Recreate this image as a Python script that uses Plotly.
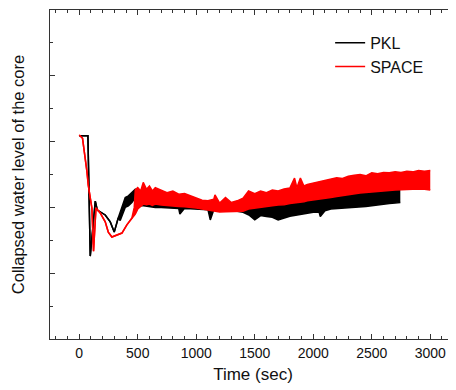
import plotly.graph_objects as go

# ---------------- data ----------------
# PKL: early single-line part
pkl_t_early = [0, 74, 94, 137, 154, 222, 265, 299, 333]
pkl_v_early = [6.18, 6.18, 2.52, 4.19, 3.92, 3.77, 3.56, 3.25, 3.68]
# PKL: oscillating part (upper / lower envelope)
pkl_t_band = [350, 393, 420, 450, 479, 500, 521,
              550, 600, 650, 700, 750, 800, 850, 860, 900, 950,
              1000, 1050, 1100, 1120, 1150, 1200, 1250, 1300, 1350, 1400,
              1450, 1500, 1550, 1600, 1650, 1700, 1750, 1800, 1850, 1900,
              1950, 2000, 2050, 2060, 2100, 2150, 2200, 2250, 2300, 2350,
              2400, 2450, 2500, 2550, 2600, 2650, 2700, 2744]
pkl_hi_band = [3.85, 4.3, 4.35, 4.45, 4.55, 4.5, 4.2,
               4.2, 4.15, 4.13, 4.12, 4.1, 4.1, 4.08, 4.08, 4.08, 4.06,
               4.05, 4.05, 4.05, 4.05, 4.06, 4.06, 4.05, 4.05, 4.04, 4.02,
               3.98, 3.98, 4.0, 4.03, 4.05, 4.1, 4.12, 4.16, 4.18, 4.22,
               4.25, 4.29, 4.3, 4.33, 4.33, 4.38, 4.4, 4.4, 4.44, 4.45,
               4.46, 4.46, 4.47, 4.5, 4.5, 4.53, 4.55, 4.6]
pkl_lo_band = [3.6, 4.0, 4.05, 4.15, 4.3, 4.1, 4.05,
               4.05, 4.02, 4.0, 4.0, 3.99, 3.98, 3.97, 3.8, 3.97, 3.96,
               3.95, 3.94, 3.93, 3.62, 3.93, 3.92, 3.91, 3.9, 3.88, 3.85,
               3.77, 3.62, 3.75, 3.72, 3.7, 3.62, 3.68, 3.73, 3.76, 3.8,
               3.82, 3.85, 3.86, 3.72, 3.9, 3.95, 3.96, 3.98, 4.0, 4.01,
               4.0, 4.03, 4.05, 4.08, 4.1, 4.12, 4.13, 4.15]

# SPACE: early single-line part
space_t_early = [0, 28, 66, 77, 108, 122, 143, 179, 222, 248, 279, 365, 407, 450]
space_v_early = [6.2, 6.1, 5.08, 4.68, 3.98, 2.67, 3.98, 3.83, 3.56, 3.25, 3.1, 3.22, 3.47, 3.68]
# SPACE: oscillating part (upper / lower envelope)
space_t_band = [470, 479, 500, 525, 547, 575, 600, 625, 650, 700,
                750, 800, 850, 900, 950, 1000, 1050, 1100, 1150, 1160,
                1200, 1250, 1300, 1350, 1400, 1447, 1500, 1550, 1600, 1650,
                1700, 1750, 1800, 1840, 1860, 1890, 1920, 1950, 2000, 2050,
                2100, 2150, 2200, 2250, 2300, 2350, 2400, 2450, 2500, 2550,
                2600, 2650, 2700, 2750, 2800, 2850, 2900, 2950, 3000]
space_hi_band = [4.0, 4.53, 4.6, 4.5, 4.76, 4.55, 4.65, 4.5, 4.6, 4.53,
                 4.45, 4.5, 4.4, 4.42, 4.35, 4.3, 4.22, 4.2, 4.25, 4.38,
                 4.13, 4.3, 4.15, 4.2, 4.28, 4.5, 4.42, 4.5, 4.45, 4.53,
                 4.5, 4.56, 4.59, 4.89, 4.6, 4.89, 4.65, 4.7, 4.74, 4.78,
                 4.8, 4.85, 4.9, 4.88, 4.95, 4.98, 5.0, 4.96, 5.05, 5.02,
                 5.06, 5.05, 5.08, 5.06, 5.1, 5.08, 5.12, 5.1, 5.12]
space_lo_band = [3.77, 3.8, 3.95, 4.02, 4.1, 4.08, 4.1, 4.06, 4.1, 4.07,
                 4.05, 4.05, 4.03, 4.02, 4.01, 3.98, 3.95, 3.92, 3.9, 3.9,
                 3.86, 3.87, 3.87, 3.86, 3.88, 3.95, 3.98, 4.0, 4.02, 4.05,
                 4.07, 4.08, 4.12, 4.13, 4.15, 4.15, 4.17, 4.2, 4.22, 4.25,
                 4.27, 4.3, 4.33, 4.36, 4.4, 4.42, 4.44, 4.45, 4.47, 4.48,
                 4.5, 4.52, 4.53, 4.54, 4.55, 4.56, 4.56, 4.55, 4.53]

x_ticks = [0, 500, 1000, 1500, 2000, 2500, 3000]
series_names = ["PKL", "SPACE"]
series_colors = ["#000000", "#ff0000"]

# ---------------- figure ----------------
fig = go.Figure()

datasets = [
    (pkl_t_early + pkl_t_band, pkl_v_early + pkl_hi_band, pkl_v_early + pkl_lo_band),
    (space_t_early + space_t_band, space_v_early + space_hi_band, space_v_early + space_lo_band),
]

for (t, hi, lo), name, color in zip(datasets, series_names, series_colors):
    fig.add_trace(go.Scatter(x=t, y=lo, mode="lines", line=dict(color=color, width=1.5),
                             showlegend=False, hoverinfo="skip"))
    fig.add_trace(go.Scatter(x=t, y=hi, mode="lines", line=dict(color=color, width=1.5),
                             fill="tonexty", fillcolor=color, showlegend=False, name=name))

for name, color in zip(series_names, series_colors):
    fig.add_trace(go.Scatter(x=[None], y=[None], mode="lines", name=name,
                             line=dict(color=color, width=1.5)))

axis_common = dict(
    showline=True, linecolor="#333333", linewidth=1.2, mirror="ticks",
    ticks="inside", ticklen=5, tickwidth=1, tickcolor="#333333",
    showgrid=False, zeroline=False, automargin=False,
)

# the page body adds an 8 px offset, so the figure is sized/margined to compensate
fig.update_layout(
    width=448, height=382,
    margin=dict(l=42, r=0, t=2, b=51),
    paper_bgcolor="white", plot_bgcolor="white",
    font=dict(family="Liberation Sans, Arial, sans-serif", color="#111111"),
    showlegend=True,
    legend=dict(x=0.69, y=0.952, xanchor="left", yanchor="top", traceorder="normal",
                bgcolor="rgba(0,0,0,0)", font=dict(size=16), tracegroupgap=0),
    xaxis=dict(range=[-250, 3220], tickvals=x_ticks, tickfont=dict(size=14),
               ticklabelstandoff=1,
               minor=dict(dtick=100, tick0=0, ticks="inside", ticklen=3, tickcolor="#333333"),
               title=dict(text="Time (sec)", font=dict(size=17), standoff=8),
               **axis_common),
    yaxis=dict(range=[0, 10], dtick=2, tick0=0, showticklabels=False,
               minor=dict(dtick=1, tick0=0, ticks="inside", ticklen=3, tickcolor="#333333"),
               title=dict(text="Collapsed water level of the core", font=dict(size=16.5), standoff=20),
               **axis_common),
)

fig.write_html("out.html")
